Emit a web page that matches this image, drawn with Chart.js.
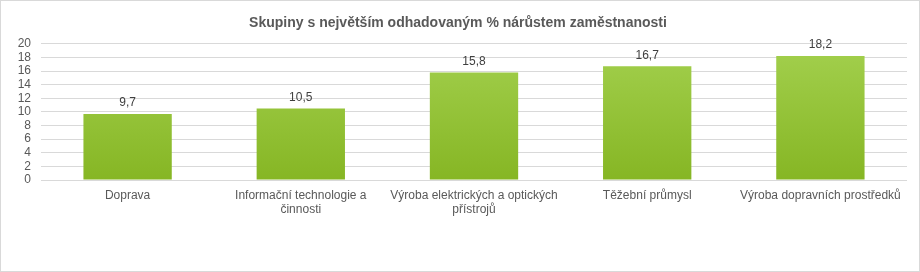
<!DOCTYPE html>
<html lang="cs">
<head>
    <meta charset="UTF-8">
    <title>Skupiny s největším odhadovaným % nárůstem zaměstnanosti</title>
    <script src="https://cdn.jsdelivr.net/npm/chart.js"></script>
    <style>
        body { margin: 0; padding: 0; background: #fff; }
        .wrap {
            position: relative;
            width: 918px;
            height: 270px;
            border: 1px solid #d9d9d9;
            background: #fff;
        }
        canvas { display: block; }
    </style>
</head>
<body>
<div class="wrap">
    <canvas id="chart" width="918" height="270"></canvas>
</div>

<script>
    // chart data
    const categories = [
        'Doprava',
        ['Informační technologie a', 'činnosti'],
        ['Výroba elektrických a optických', 'přístrojů'],
        'Těžební průmysl',
        'Výroba dopravních prostředků'
    ];
    const values = [9.7, 10.5, 15.8, 16.7, 18.2];
    const yTicks = [0, 2, 4, 6, 8, 10, 12, 14, 16, 18, 20];

    const FONT = "'Liberation Sans', Arial, sans-serif";
    const TEXT = '#595959';

    // green gradient for the bars
    function barFill(ctx) {
        const area = ctx.chart.chartArea;
        if (!area) return '#94c13a';
        const g = ctx.chart.ctx.createLinearGradient(0, area.top, 0, area.bottom);
        g.addColorStop(0, '#a3d04e');
        g.addColorStop(1, '#86b624');
        return g;
    }

    // value labels above bars (comma decimals)
    const valueLabels = {
        id: 'valueLabels',
        afterDatasetsDraw(chart) {
            const c = chart.ctx;
            c.save();
            c.font = '12px ' + FONT;
            c.fillStyle = '#404040';
            c.textAlign = 'center';
            c.textBaseline = 'bottom';
            chart.getDatasetMeta(0).data.forEach((bar, i) => {
                c.fillText(values[i].toFixed(1).replace('.', ','), bar.x, bar.y - 5);
            });
            c.restore();
        }
    };

    new Chart(document.getElementById('chart'), {
        type: 'bar',
        data: {
            labels: categories,
            datasets: [{
                data: values,
                backgroundColor: barFill,
                borderWidth: 0,
                categoryPercentage: 1,
                barPercentage: 0.51
            }]
        },
        options: {
            responsive: false,
            animation: false,
            devicePixelRatio: 1,
            layout: { padding: { top: 0, left: 8, right: 12, bottom: 0 } },
            plugins: {
                legend: { display: false },
                tooltip: { enabled: false },
                title: {
                    display: true,
                    text: 'Skupiny s největším odhadovaným % nárůstem zaměstnanosti',
                    color: TEXT,
                    font: { family: FONT, size: 14, weight: 'bold' },
                    padding: { top: 14, bottom: 12 }
                }
            },
            scales: {
                x: {
                    grid: { display: false },
                    border: { display: false },
                    ticks: {
                        color: TEXT,
                        font: { family: FONT, size: 12, lineHeight: 1.15 },
                        maxRotation: 0,
                        autoSkip: false,
                        padding: 1
                    },
                    afterFit(scale) { scale.height = 91; }
                },
                y: {
                    min: 0,
                    max: 20,
                    afterBuildTicks(scale) { scale.ticks = yTicks.map(v => ({ value: v })); },
                    grid: { color: '#d9d9d9', lineWidth: 1, drawTicks: false },
                    border: { display: false },
                    ticks: {
                        color: TEXT,
                        font: { family: FONT, size: 12, lineHeight: 1 },
                        autoSkip: false,
                        padding: 10
                    },
                    afterFit(scale) { scale.width = 32; }
                }
            }
        },
        plugins: [valueLabels]
    });
</script>
</body>
</html>
